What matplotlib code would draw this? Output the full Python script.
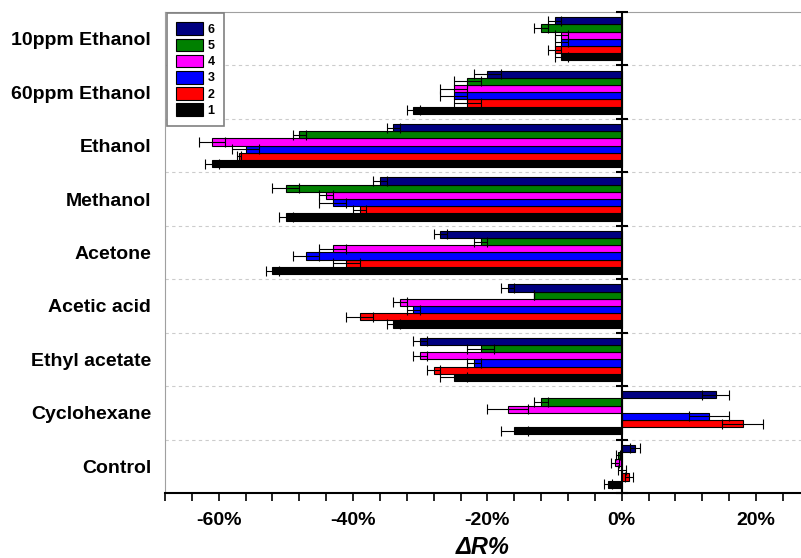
import matplotlib.pyplot as plt
import numpy as np
from matplotlib.ticker import MultipleLocator, FuncFormatter

plt.rcParams['font.family'] = ['Liberation Sans', 'DejaVu Sans']
plt.rcParams['font.weight'] = 'bold'

categories = ['10ppm Ethanol', '60ppm Ethanol', 'Ethanol', 'Methanol', 'Acetone',
              'Acetic acid', 'Ethyl acetate', 'Cyclohexane', 'Control']
series_names = ['1', '2', '3', '4', '5', '6']
colors = ['#000000', '#ff0000', '#0000ff', '#ff00ff', '#008000', '#000080']

# delta R (%) per series, categories in order above
s1 = [-9, -31, -61, -50, -52, -34, -25, -16, -2]
s2 = [-10, -23, -57, -39, -41, -39, -28, 18, 1.1]
s3 = [-9, -25, -56, -43, -47, -31, -22, 13, 0]
s4 = [-9, -25, -61, -44, -43, -33, -30, -17, -1]
s5 = [-12, -23, -48, -50, -21, -13, -21, -12, -0.5]
s6 = [-10, -20, -34, -36, -27, -17, -30, 14, 2]
values = [s1, s2, s3, s4, s5, s6]

# error bars
e1 = [1, 1, 1, 1, 1, 1, 2, 2, 0.6]
e2 = [1, 2, 0.3, 1, 2, 2, 1, 3, 0.6]
e3 = [1, 2, 2, 2, 2, 1, 1, 3, 0.6]
e4 = [1, 2, 2, 1, 2, 1, 1, 3, 0.6]
e5 = [1, 2, 1, 2, 1, 0, 2, 1, 0.3]
e6 = [1, 2, 1, 1, 1, 1, 1, 2, 0.7]
errors = [e1, e2, e3, e4, e5, e6]

fig = plt.figure(figsize=(8.01, 5.58), dpi=100)
ax = fig.add_axes([165 / 801, 1 - 493 / 558, 1 - 165 / 801, (493 - 12) / 558])

y = np.arange(len(categories))
h = 0.135
for k in range(6):
    off = (2.5 - k) * h
    ax.barh(y + off, values[k], height=h, color=colors[k], edgecolor='black',
            linewidth=0.8, xerr=errors[k], error_kw=dict(ecolor='black', elinewidth=0.8,
            capsize=3.5, capthick=0.8), label=series_names[k], zorder=3)

ax.set_ylim(len(categories) - 0.5, -0.5)
ax.set_xlim(-68, 26.7)

# group separators
for b in np.arange(0.5, len(categories) - 0.5, 1):
    ax.axhline(b, color='#cccccc', lw=0.8, ls=(0, (3, 3)), zorder=1)

# zero axis with ticks at the group boundaries
ax.axvline(0, color='black', lw=1.5, zorder=4)
ax.plot(np.zeros(len(categories) + 1), np.arange(-0.5, len(categories), 1), ls='none',
        marker='_', markersize=8, mew=1.5, color='black', zorder=5, clip_on=False)

ax.set_yticks(y, labels=categories, fontsize=14, fontweight='bold')
ax.tick_params(axis='y', length=0, pad=10)

ax.xaxis.set_major_locator(MultipleLocator(20))
ax.xaxis.set_minor_locator(MultipleLocator(4))
ax.xaxis.set_major_formatter(FuncFormatter(lambda v, p: f'{v:.0f}%'))
ax.tick_params(axis='x', which='major', direction='out', length=6, width=1.2,
               labelsize=14, pad=8)
ax.tick_params(axis='x', which='minor', direction='out', length=6, width=1.2)
for t in ax.get_xticklabels():
    t.set_fontweight('bold')
ax.set_xlabel('ΔR%', fontsize=17, fontweight='bold', fontstyle='italic', labelpad=5)

ax.spines['bottom'].set_linewidth(1.5)
ax.spines['left'].set_color('#a0a0a0')
ax.spines['top'].set_color('#a0a0a0')
ax.spines['right'].set_visible(False)

handles, labels = ax.get_legend_handles_labels()
leg = ax.legend(handles[::-1], labels[::-1], loc='upper left',
                bbox_to_anchor=(167 / 801, 1 - 13 / 558), bbox_transform=fig.transFigure,
                prop=dict(weight='bold', size=9), handlelength=2.1,
                handleheight=1.2, labelspacing=0.2, handletextpad=0.4,
                borderpad=0.75, borderaxespad=0, fancybox=False, framealpha=1,
                edgecolor='#808080')
leg.get_frame().set_linewidth(1.2)
leg.set_zorder(6)

fig.savefig('out.png', dpi=100)
